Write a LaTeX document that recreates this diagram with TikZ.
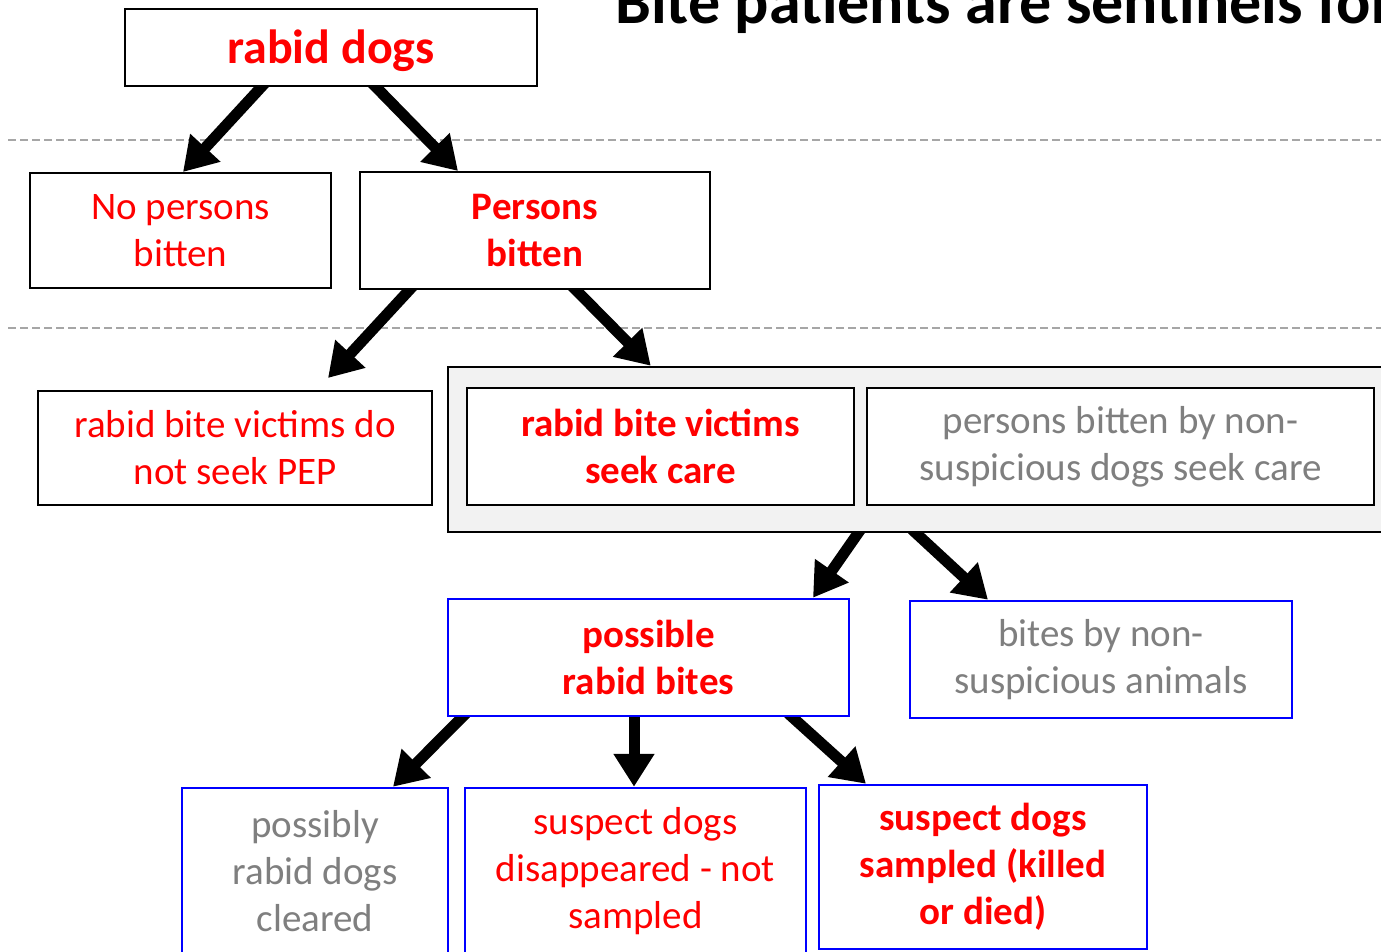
\documentclass[tikz,border=0pt]{standalone}
\usepackage{fontspec}
\setmainfont{Carlito}
\usetikzlibrary{arrows.meta,backgrounds}
\definecolor{rabidred}{RGB}{255,0,0}
\definecolor{harmlessgray}{RGB}{127,127,127}
\definecolor{surveyblue}{RGB}{0,0,255}
\definecolor{panelgray}{RGB}{242,242,242}
\definecolor{levelgray}{RGB}{166,166,166}
\newcommand{\boxfont}{\fontsize{39}{47}\selectfont}

\begin{document}
\begin{tikzpicture}[x=1pt,y=-1pt,line join=miter,
    stage/.style={draw=black,line width=2pt,fill=white,inner sep=0pt,align=center,font=\boxfont},
    stageblue/.style={stage,draw=surveyblue,line width=2.5pt},
    flow/.style={line width=11pt,-{Triangle[length=33pt,width=39pt]}}]
  \useasboundingbox (0,0) rectangle (1381,952);

  % Titel (am oberen Rand abgeschnitten)
  \node[anchor=base west,inner sep=0pt,font=\fontsize{64}{77}\selectfont\bfseries] (title) at (615,24) {Bite patients are sentinels for};

  % Ebene 1: Tollwut bei Hunden
  \node[stage,minimum width=412pt,minimum height=77pt,text=rabidred,text height=38pt,text depth=5pt,
        font=\fontsize{48}{58}\selectfont\bfseries] (dogs) at (331,47.5) {rabid dogs};

  % Ebene 2: Bisse
  \node[stage,minimum width=301pt,minimum height=115pt,text=rabidred] (nobit) at (180.5,230.5) {No persons\\bitten};
  \node[stage,minimum width=350pt,minimum height=117pt,text=rabidred,
        font=\boxfont\bfseries] (bit) at (535,230.5) {Persons\\bitten};

  % Ebene 3: Behandlung
  \node[stage,minimum width=394pt,minimum height=114pt,text=rabidred] (nopep) at (235,448) {rabid bite victims do\\not seek PEP};
  \node[draw=black,line width=2.5pt,fill=panelgray,inner sep=0pt,
        minimum width=942pt,minimum height=165pt] (clinic) at (919,449.5) {};
  \node[stage,minimum width=387pt,minimum height=117pt,text=rabidred,
        font=\boxfont\bfseries] (care) at (660.5,446.5) {rabid bite victims\\seek care};
  \node[stage,minimum width=507pt,minimum height=117pt,text=harmlessgray] (nonsus) at (1120.5,446.5) {persons bitten by non-\\suspicious dogs seek care};

  % Ebene 4: Einschaetzung der Bisse
  \node[stageblue,minimum width=401pt,minimum height=117pt,text=rabidred,
        font=\boxfont\bfseries] (possible) at (648.5,657.5) {possible\\rabid bites};
  \node[stageblue,minimum width=382pt,minimum height=117pt,text=harmlessgray] (bitesnon) at (1101,659.5) {bites by non-\\suspicious animals};

  % Ebene 5: Verbleib der Hunde
  \node[stageblue,minimum width=266pt,minimum height=166pt,text=harmlessgray] (cleared) at (315,871) {possibly\\rabid dogs\\cleared};
  \node[stageblue,minimum width=341pt,minimum height=166pt,text=rabidred] (gone) at (635.5,871) {suspect dogs\\disappeared - not\\sampled};
  \node[stageblue,minimum width=328pt,minimum height=164pt,text=rabidred,
        font=\boxfont\bfseries] (sampled) at (983,867) {suspect dogs\\sampled (killed\\or died)};

  \begin{pgfonlayer}{background}
    % Trennlinien
    \draw[levelgray,line width=2.5pt,dash pattern=on 8pt off 4pt] (8,140) -- (1381,140);
    \draw[levelgray,line width=2.5pt,dash pattern=on 8pt off 4pt] (8,328) -- (1381,328);

    % Pfeile
    \draw[flow] ([xshift=-66pt,yshift=4pt]dogs.south) -- ([xshift=2.5pt]nobit.north);
    \draw[flow] ([xshift=41pt,yshift=4pt]dogs.south) -- ([xshift=-77pt]bit.north);
    \draw[flow] ([xshift=-122pt,yshift=4pt]bit.south) -- ([xshift=93pt,yshift=12pt]nopep.north);
    \draw[flow] ([xshift=37pt,yshift=4pt]bit.south) -- ([xshift=204pt]clinic.north west);
    \draw[flow] ([xshift=414pt,yshift=4pt]clinic.south west) -- ([xshift=164.5pt]possible.north);
    \draw[flow] ([xshift=465pt,yshift=4pt]clinic.south west) -- ([xshift=-113pt]bitesnon.north);
    \draw[flow] ([xshift=-182.5pt,yshift=4pt]possible.south) -- ([xshift=78pt]cleared.north);
    \draw[flow] ([xshift=-14.5pt,yshift=4pt]possible.south) -- ([xshift=-1.5pt]gone.north);
    \draw[flow] ([xshift=139.5pt,yshift=4pt]possible.south) -- ([xshift=-117pt]sampled.north);
  \end{pgfonlayer}
\end{tikzpicture}
\end{document}
